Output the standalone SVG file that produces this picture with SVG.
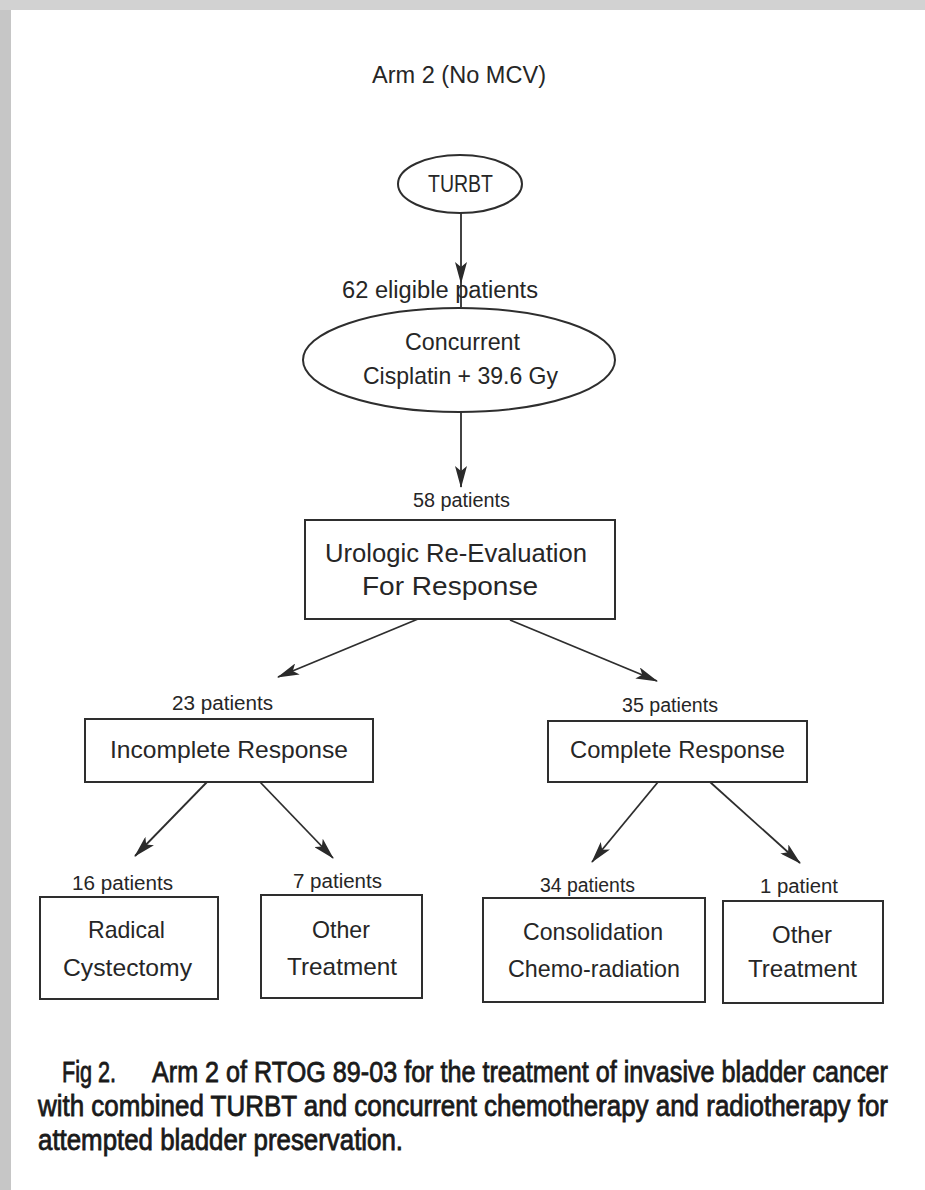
<svg xmlns="http://www.w3.org/2000/svg" width="925" height="1190" viewBox="0 0 925 1190">
  <defs>
    <marker id="head" viewBox="0 0 22 12" refX="21" refY="6" markerWidth="22" markerHeight="12" markerUnits="userSpaceOnUse" orient="auto">
      <path d="M0,0 L22,6 L0,12 L5,6 z" fill="#2a2a2a"/>
    </marker>
  </defs>
  <style>
    .frame { fill: #c6c6c6; }
    .page { fill: #ffffff; }
    .shape { fill: none; stroke: #2e2e2e; stroke-width: 2; }
    .edge { fill: none; stroke: #2e2e2e; stroke-width: 1.8; }
    .lbl { font-family: "Liberation Sans", Arial, sans-serif; fill: #262626; }
    .big { font-size: 24px; }
    .cnt { font-size: 20px; }
    .cap { font-family: "Liberation Sans Narrow", "Liberation Sans", sans-serif; font-size: 29px; fill: #1a1a1a; stroke: #1a1a1a; stroke-width: 0.8; }
  </style>

  <!-- page with grey mat -->
  <rect class="frame" x="0" y="0" width="925" height="1190"/>
  <rect x="0" y="0" width="925" height="10" fill="#d2d2d2"/>
  <rect class="page" x="11" y="10" width="914" height="1180"/>

  <!-- heading -->
  <text class="lbl" x="372" y="83" font-size="23" textLength="174" lengthAdjust="spacingAndGlyphs">Arm 2 (No MCV)</text>

  <!-- connectors -->
  <g id="connectors">
    <path class="edge" d="M461,213 V283" marker-end="url(#head)"/>
    <path class="edge" d="M461,283 V307"/>
    <path class="edge" d="M461,412 V487" marker-end="url(#head)"/>
    <path class="edge" d="M418,619 L278,677" marker-end="url(#head)"/>
    <path class="edge" d="M510,620 L657,681" marker-end="url(#head)"/>
    <path class="edge" d="M207,782 L135,856" marker-end="url(#head)"/>
    <path class="edge" d="M260,782 L333,858" marker-end="url(#head)"/>
    <path class="edge" d="M658,782 L592,862" marker-end="url(#head)"/>
    <path class="edge" d="M710,782 L800,863" marker-end="url(#head)"/>
  </g>

  <g id="turbt">
    <ellipse class="shape" cx="460" cy="184" rx="62" ry="29"/>
    <text class="lbl" x="428" y="192" font-size="23" textLength="65" lengthAdjust="spacingAndGlyphs">TURBT</text>
  </g>

  <g id="chemoradiation">
    <text class="lbl" x="342" y="298" font-size="23" textLength="196" lengthAdjust="spacingAndGlyphs">62 eligible patients</text>
    <ellipse class="shape" cx="459" cy="360" rx="156" ry="52"/>
    <text class="lbl big" x="405" y="350" textLength="115" lengthAdjust="spacingAndGlyphs">Concurrent</text>
    <text class="lbl big" x="363" y="384" textLength="195" lengthAdjust="spacingAndGlyphs">Cisplatin + 39.6 Gy</text>
  </g>

  <g id="reevaluation">
    <text class="lbl cnt" x="413" y="507" textLength="97" lengthAdjust="spacingAndGlyphs">58 patients</text>
    <rect class="shape" x="305" y="520" width="310" height="99"/>
    <text class="lbl" x="325" y="562" font-size="25" textLength="262" lengthAdjust="spacingAndGlyphs">Urologic Re-Evaluation</text>
    <text class="lbl" x="362" y="595" font-size="25" textLength="176" lengthAdjust="spacingAndGlyphs">For Response</text>
  </g>

  <g id="incomplete">
    <text class="lbl cnt" x="172" y="710" textLength="101" lengthAdjust="spacingAndGlyphs">23 patients</text>
    <rect class="shape" x="85" y="719" width="288" height="63"/>
    <text class="lbl big" x="110" y="758" textLength="238" lengthAdjust="spacingAndGlyphs">Incomplete Response</text>
  </g>

  <g id="complete">
    <text class="lbl cnt" x="622" y="712" textLength="96" lengthAdjust="spacingAndGlyphs">35 patients</text>
    <rect class="shape" x="548" y="721" width="259" height="61"/>
    <text class="lbl big" x="570" y="758" textLength="215" lengthAdjust="spacingAndGlyphs">Complete Response</text>
  </g>

  <g id="cystectomy">
    <text class="lbl cnt" x="72" y="890" textLength="101" lengthAdjust="spacingAndGlyphs">16 patients</text>
    <rect class="shape" x="40" y="897" width="178" height="102"/>
    <text class="lbl big" x="88" y="938" textLength="77" lengthAdjust="spacingAndGlyphs">Radical</text>
    <text class="lbl big" x="63" y="976" textLength="129" lengthAdjust="spacingAndGlyphs">Cystectomy</text>
  </g>

  <g id="other-incomplete">
    <text class="lbl cnt" x="293" y="888" textLength="89" lengthAdjust="spacingAndGlyphs">7 patients</text>
    <rect class="shape" x="261" y="895" width="161" height="103"/>
    <text class="lbl big" x="312" y="938" textLength="58" lengthAdjust="spacingAndGlyphs">Other</text>
    <text class="lbl big" x="287" y="975" textLength="110" lengthAdjust="spacingAndGlyphs">Treatment</text>
  </g>

  <g id="consolidation">
    <text class="lbl cnt" x="540" y="892" textLength="95" lengthAdjust="spacingAndGlyphs">34 patients</text>
    <rect class="shape" x="483" y="898" width="222" height="104"/>
    <text class="lbl big" x="523" y="940" textLength="140" lengthAdjust="spacingAndGlyphs">Consolidation</text>
    <text class="lbl big" x="508" y="977" textLength="172" lengthAdjust="spacingAndGlyphs">Chemo-radiation</text>
  </g>

  <g id="other-complete">
    <text class="lbl cnt" x="760" y="893" textLength="78" lengthAdjust="spacingAndGlyphs">1 patient</text>
    <rect class="shape" x="723" y="901" width="160" height="102"/>
    <text class="lbl big" x="772" y="943" textLength="60" lengthAdjust="spacingAndGlyphs">Other</text>
    <text class="lbl big" x="748" y="977" textLength="109" lengthAdjust="spacingAndGlyphs">Treatment</text>
  </g>

  <!-- figure legend -->
  <text class="cap" x="62" y="1082" textLength="54" lengthAdjust="spacingAndGlyphs">Fig 2.</text>
  <text class="cap" x="152" y="1082" textLength="736" lengthAdjust="spacingAndGlyphs">Arm 2 of RTOG 89-03 for the treatment of invasive bladder cancer</text>
  <text class="cap" x="38" y="1116" textLength="850" lengthAdjust="spacingAndGlyphs">with combined TURBT and concurrent chemotherapy and radiotherapy for</text>
  <text class="cap" x="38" y="1150" textLength="365" lengthAdjust="spacingAndGlyphs">attempted bladder preservation.</text>
</svg>
